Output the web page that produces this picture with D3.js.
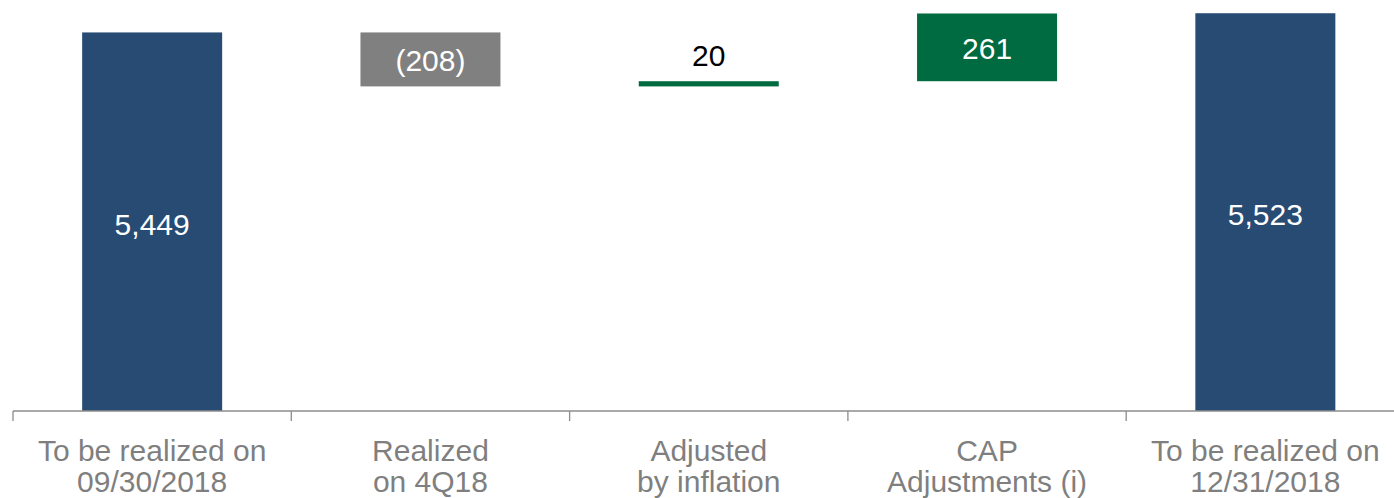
<!DOCTYPE html>
<html>
<head>
<meta charset="utf-8">
<script src="https://cdn.jsdelivr.net/npm/d3@7"></script>
<style>
  body { margin: 0; background: #fff; }
  text { font-family: "Liberation Sans", Arial, sans-serif; }
</style>
</head>
<body>
<svg id="chart"></svg>
<script>
// categories (two lines each) and waterfall values
var categories = [
  ["To be realized on", "09/30/2018"],
  ["Realized", "on 4Q18"],
  ["Adjusted", "by inflation"],
  ["CAP", "Adjustments (i)"],
  ["To be realized on", "12/31/2018"]
];
var values = [5449, -208, 20, 261, 5523];
var kinds = ["total", "delta", "delta", "delta", "total"];
var valueLabels = ["5,449", "(208)", "20", "261", "5,523"];

var width = 1394;
var height = 498;
var baseY = 411;

var svg = d3.select("#chart")
  .attr("width", width)
  .attr("height", height);

// build waterfall steps
var steps = [];
var running = 0;
values.forEach(function (v, i) {
  var start, end;
  if (kinds[i] === "total") { start = null; end = v; running = v; }
  else { start = running; end = running + v; running = end; }
  steps.push({ i: i, start: start, end: end, value: v, kind: kinds[i] });
});

var x = d3.scaleBand()
  .domain(d3.range(categories.length))
  .range([13, 1404.5])
  .paddingInner(0)
  .paddingOuter(0);

// axis does not start at zero
var y = d3.scaleLinear()
  .domain([3990, 5574])
  .range([baseY, 0]);

var barW = 140;

function color(d) {
  if (d.kind === "total") return "#274b73";
  if (d.value < 0) return "#808080";
  return "#006a40";
}

var g = svg.append("g");

g.selectAll("rect.bar")
  .data(steps)
  .enter()
  .append("rect")
  .attr("class", "bar")
  .attr("x", d => x(d.i) + x.bandwidth() / 2 - barW / 2)
  .attr("width", barW)
  .attr("y", function (d) {
    if (d.kind === "total") return y(d.end);
    return y(Math.max(d.start, d.end));
  })
  .attr("height", function (d) {
    if (d.kind === "total") return baseY - y(d.end);
    return Math.abs(y(d.start) - y(d.end));
  })
  .attr("fill", color);

// value labels
g.selectAll("text.val")
  .data(steps)
  .enter()
  .append("text")
  .attr("class", "val")
  .attr("x", d => x(d.i) + x.bandwidth() / 2)
  .attr("y", function (d) {
    if (d.kind === "total") return (y(d.end) + baseY) / 2 + 13;
    var top = y(Math.max(d.start, d.end));
    var bot = y(Math.min(d.start, d.end));
    if (bot - top < 30) return top - 15;
    return (top + bot) / 2 + 12;
  })
  .attr("text-anchor", "middle")
  .attr("font-size", 30)
  .attr("fill", function (d) {
    var h = d.kind === "total" ? 100 : Math.abs(y(d.start) - y(d.end));
    return h < 30 ? "#000" : "#fff";
  })
  .text((d, i) => valueLabels[i]);

// x axis
var axis = svg.append("g");
axis.append("line")
  .attr("x1", 13).attr("x2", width)
  .attr("y1", baseY).attr("y2", baseY)
  .attr("stroke", "#8c8c8c").attr("stroke-width", 1.3);

axis.selectAll("line.tick")
  .data(d3.range(categories.length + 1))
  .enter()
  .append("line")
  .attr("class", "tick")
  .attr("x1", d => 13 + d * x.bandwidth())
  .attr("x2", d => 13 + d * x.bandwidth())
  .attr("y1", baseY).attr("y2", baseY + 10)
  .attr("stroke", "#8c8c8c").attr("stroke-width", 1.3);

var lab = axis.selectAll("text.cat")
  .data(categories)
  .enter()
  .append("text")
  .attr("class", "cat")
  .attr("text-anchor", "middle")
  .attr("font-size", 30)
  .attr("fill", "#7f7f7f");

lab.each(function (d, i) {
  var t = d3.select(this);
  d.forEach(function (line, j) {
    t.append("tspan")
      .attr("x", x(i) + x.bandwidth() / 2)
      .attr("y", 461 + j * 31)
      .text(line);
  });
});
</script>
</body>
</html>
